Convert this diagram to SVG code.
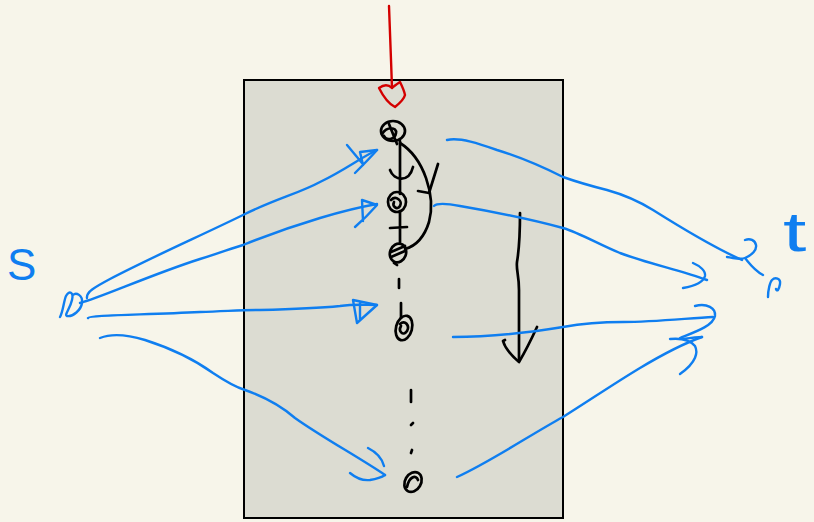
<svg xmlns="http://www.w3.org/2000/svg" width="814" height="522" viewBox="0 0 814 522">
<defs>
<style>
.b{fill:none;stroke:#0f7ef0;stroke-width:2.4;stroke-linecap:round;stroke-linejoin:round}
.k{fill:none;stroke:#000;stroke-width:2.7;stroke-linecap:round;stroke-linejoin:round}
.r{fill:none;stroke:#d40000;stroke-width:2.4;stroke-linecap:round;stroke-linejoin:round}
.lbl{font-family:"Liberation Sans","DejaVu Sans",sans-serif;fill:#0f7ef0}
</style>
</defs>
<rect x="0" y="0" width="814" height="522" fill="#f7f5ea"/>
<g id="box">
<rect x="244" y="80" width="319" height="438" fill="#dcdcd2" stroke="#000" stroke-width="2"/>
</g>
<g id="labels">
<text class="lbl" x="7" y="280" font-size="44">S</text>
<text class="lbl" x="783" y="251" font-size="56" transform="translate(783 0) scale(1.5 1) translate(-783 0)">t</text>
</g>
<g id="nodes">
<g id="n1">
<ellipse cx="393" cy="131" rx="12" ry="10" class="k"/>
<path class="k" d="M382,134 C387,126 397,127 396,133 C395,140 386,141 384,136 M389,124 L397,144"/>
</g>
<g id="n2">
<ellipse cx="397" cy="202" rx="9" ry="10" class="k"/>
<path class="k" d="M391,200 C396,195 403,201 400,206 C397,211 392,206 394,202"/>
</g>
<g id="n3">
<ellipse cx="398" cy="253" rx="8" ry="9.5" transform="rotate(20 398 253)" class="k"/>
<path class="k" d="M391,252 L405,246 M391,257 L405,251 M394,263 L397,265"/>
</g>
<g id="n4">
<ellipse cx="404" cy="328" rx="8" ry="12.5" transform="rotate(15 404 328)" class="k"/>
<path class="k" d="M400,324 C405,319 410,326 407,331 C403,337 398,331 401,326"/>
</g>
<g id="n5">
<ellipse cx="413" cy="482" rx="8" ry="10.5" transform="rotate(30 413 482)" class="k"/>
<path class="k" d="M407,487 C409,477 416,474 418,480"/>
</g>
</g>
<g id="connectors">
<path class="r" d="M389,6 C390,30 391,60 392,88"/>
<path class="r" d="M392,88 C388,84 383,85 379,88 C383,96 389,104 395,107 C400,103 404,99 405,95 C404,90 402,86 400,82 C397,84 394,86 392,88"/>
<path class="k" d="M400,141 L400,194"/>
<path class="k" d="M390,170 C394,181 409,183 413,167"/>
<path class="k" d="M400,143 C424,158 436,196 429,222 C424,238 416,246 405,249"/>
<path class="k" d="M418,191 L429,193 L438,164"/>
<path class="k" d="M400,211 L400,242 M390,228 L407,227"/>
<path class="k" d="M399,279 L399,288"/>
<path class="k" d="M401,303 L401,318"/>
<path class="k" d="M411,390 L411,402"/>
<path class="k" d="M411,425 L413,423"/>
<path class="k" d="M411,453 L412,450"/>
<path class="k" d="M520,213 C520,240 519,250 517,262 C516,270 519,275 519,290 L519,361"/>
<path class="k" d="M505,340 L503,341 C505,348 512,356 519,362 C525,352 531,340 537,327"/>
<path class="b" d="M60,317 C63,312 64,300 66,296 C69,290 74,292 72,300 C70,309 64,315 67,316 C73,317 81,310 82,303 C83,295 76,292 73,295"/>
<path class="b" d="M87,298 C86,292 95,287 110,279 C150,258 200,236 243,215 C275,199 300,193 320,182 C345,170 360,158 377,150"/>
<path class="b" d="M347,145 L362,163 M355,173 C362,166 370,158 377,150 L360,152 L363,165"/>
<path class="b" d="M80,303 C100,298 150,275 200,259 C220,253 232,248 243,245 C275,232 300,224 320,218 C340,212 360,207 377,204"/>
<path class="b" d="M355,227 C363,220 370,213 377,205 L362,200 L363,221"/>
<path class="b" d="M88,318 C89,315 140,315 200,312 C230,311 243,310 260,310 C300,309 320,308 340,306 C355,304 365,305 377,305"/>
<path class="b" d="M357,323 L353,300 L377,305 L357,323 M360,303 L360,320"/>
<path class="b" d="M100,338 C110,334 125,334 145,340 C170,348 195,360 213,373 C225,381 235,387 245,390 C265,397 280,405 295,418 C320,436 360,458 385,475"/>
<path class="b" d="M350,473 C356,478 362,481 370,480 C376,479 382,477 385,475 M368,448 C376,452 382,458 384,466"/>
<path class="b" d="M447,140 C460,137 480,144 497,150 C520,157 545,168 563,177 C580,183 595,187 607,190 C625,195 640,202 653,210 C680,227 715,248 742,260"/>
<path class="b" d="M727,257 C735,258 740,260 745,258 C752,255 757,250 756,245 C755,240 750,238 745,240 M745,258 C750,264 754,270 763,275"/>
<path class="b" d="M768,297 C768,290 770,282 772,280 C775,277 781,278 780,284 C779,290 777,292 776,289"/>
<path class="b" d="M434,206 C437,203 444,203 460,206 C495,212 530,219 563,228 C580,233 600,245 620,253 C650,264 680,270 707,280"/>
<path class="b" d="M693,263 C700,266 706,271 705,276 C703,283 695,286 683,288"/>
<path class="b" d="M453,337 C480,337 520,334 563,327 C585,323 605,322 623,322 C655,322 690,318 713,317"/>
<path class="b" d="M695,306 C707,303 716,308 715,316 C713,326 695,332 680,338"/>
<path class="b" d="M457,477 C490,462 530,435 563,417 C590,400 615,383 640,368 C660,356 685,343 702,337"/>
<path class="b" d="M670,339 C680,338 690,340 695,346 C698,352 697,362 680,374 M683,339 C690,338 697,337 702,337"/>
</g>
</svg>
